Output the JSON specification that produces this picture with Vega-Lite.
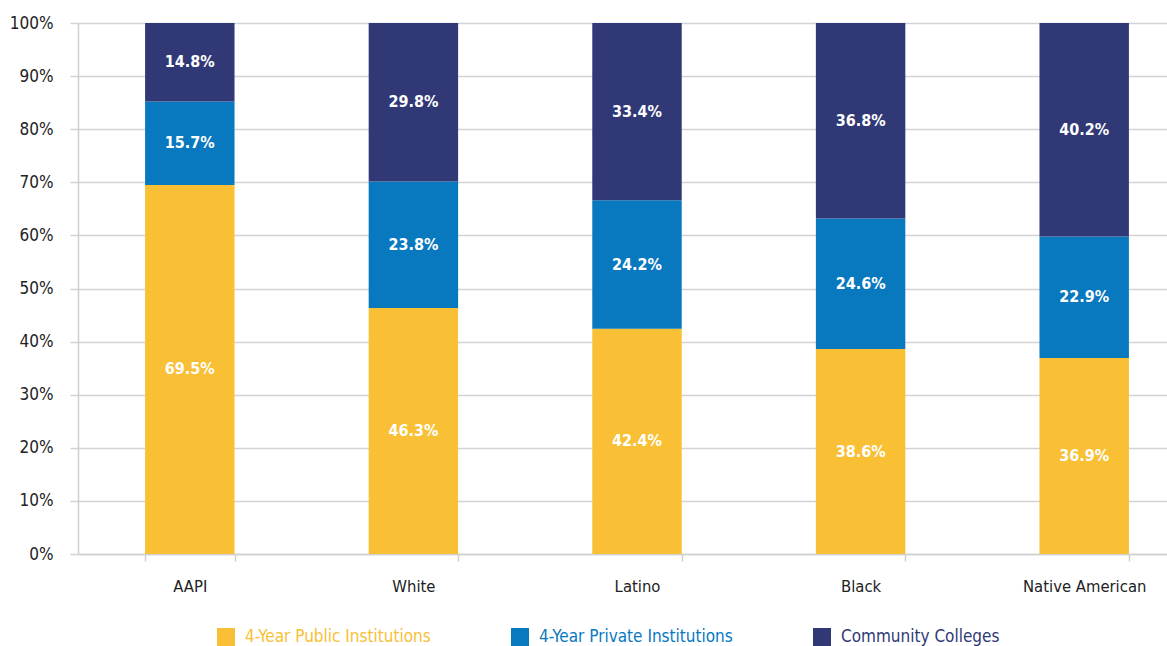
{
  "$schema": "https://vega.github.io/schema/vega-lite/v6.json",
  "width": 1089,
  "height": 531,
  "autosize": {"type": "none"},
  "padding": {"left": 78, "top": 23, "right": 0, "bottom": 92},
  "background": "white",
  "config": {
    "font": "'DejaVu Sans Condensed', Roboto, sans-serif",
    "view": {"stroke": null}
  },
  "data": {
    "values": [
      {"group": "AAPI", "type": "4-Year Public Institutions", "value": 69.5},
      {"group": "AAPI", "type": "4-Year Private Institutions", "value": 15.7},
      {"group": "AAPI", "type": "Community Colleges", "value": 14.8},
      {"group": "White", "type": "4-Year Public Institutions", "value": 46.3},
      {"group": "White", "type": "4-Year Private Institutions", "value": 23.8},
      {"group": "White", "type": "Community Colleges", "value": 29.8},
      {"group": "Latino", "type": "4-Year Public Institutions", "value": 42.4},
      {"group": "Latino", "type": "4-Year Private Institutions", "value": 24.2},
      {"group": "Latino", "type": "Community Colleges", "value": 33.4},
      {"group": "Black", "type": "4-Year Public Institutions", "value": 38.6},
      {"group": "Black", "type": "4-Year Private Institutions", "value": 24.6},
      {"group": "Black", "type": "Community Colleges", "value": 36.8},
      {"group": "Native American", "type": "4-Year Public Institutions", "value": 36.9},
      {"group": "Native American", "type": "4-Year Private Institutions", "value": 22.9},
      {"group": "Native American", "type": "Community Colleges", "value": 40.2}
    ]
  },
  "transform": [
    {"calculate": "indexof(['4-Year Public Institutions','4-Year Private Institutions','Community Colleges'], datum.type)", "as": "ord"},
    {"stack": "value", "groupby": ["group"], "sort": [{"field": "ord", "order": "ascending"}], "offset": "normalize", "as": ["y0", "y1"]},
    {"calculate": "(datum.y0 + datum.y1) / 2", "as": "ymid"},
    {"calculate": "format(datum.value, '.1f') + '%'", "as": "label"}
  ],
  "encoding": {
    "x": {
      "field": "group",
      "type": "nominal",
      "sort": ["AAPI", "White", "Latino", "Black", "Native American"],
      "scale": {"range": [0, 1118], "paddingInner": 0.6, "paddingOuter": 0.3},
      "axis": {
        "title": null,
        "labelAngle": 0,
        "labelFontSize": 16.5,
        "labelColor": "#222222",
        "labelPadding": 17,
        "domain": true,
        "domainColor": "#d0d0d0",
        "domainWidth": 1.5,
        "ticks": true,
        "tickBand": "extent",
        "tickSize": 7,
        "tickColor": "#d0d0d0",
        "tickWidth": 1.5,
        "grid": false
      }
    }
  },
  "layer": [
    {
      "mark": {"type": "bar"},
      "encoding": {
        "y": {
          "field": "y0",
          "type": "quantitative",
          "scale": {"domain": [0, 1], "nice": false},
          "axis": {
            "title": null,
            "format": ".0%",
            "values": [0, 0.1, 0.2, 0.3, 0.4, 0.5, 0.6, 0.7, 0.8, 0.9, 1],
            "labelFontSize": 17,
            "labelColor": "#222222",
            "labelPadding": 17,
            "grid": true,
            "gridColor": "#d3d3d3",
            "gridWidth": 1.5,
            "domain": true,
            "domainColor": "#d0d0d0",
            "domainWidth": 1.5,
            "tickSize": 8,
            "tickColor": "#d3d3d3",
            "tickWidth": 1.5
          }
        },
        "y2": {"field": "y1"},
        "color": {
          "field": "type",
          "type": "nominal",
          "sort": ["4-Year Public Institutions", "4-Year Private Institutions", "Community Colleges"],
          "scale": {
            "domain": ["4-Year Public Institutions", "4-Year Private Institutions", "Community Colleges"],
            "range": ["#F9BF35", "#0878BF", "#303876"]
          },
          "legend": {
            "title": null,
            "orient": "none",
            "direction": "horizontal",
            "legendX": 139,
            "legendY": 605,
            "symbolType": "square",
            "symbolSize": 324,
            "symbolStrokeWidth": 0,
            "symbolOpacity": 1,
            "labelFontSize": 17,
            "labelOffset": 10,
            "labelLimit": 400,
            "columnPadding": 80,
            "encode": {
              "labels": {"update": {"fill": {"scale": "color", "field": "value"}}},
              "symbols": {"update": {"fillOpacity": {"value": 1}}}
            }
          }
        }
      }
    },
    {
      "mark": {"type": "text", "color": "white", "fontWeight": "bold", "fontSize": 16, "baseline": "middle", "align": "center"},
      "encoding": {
        "y": {"field": "ymid", "type": "quantitative"},
        "text": {"field": "label", "type": "nominal"}
      }
    }
  ]
}
